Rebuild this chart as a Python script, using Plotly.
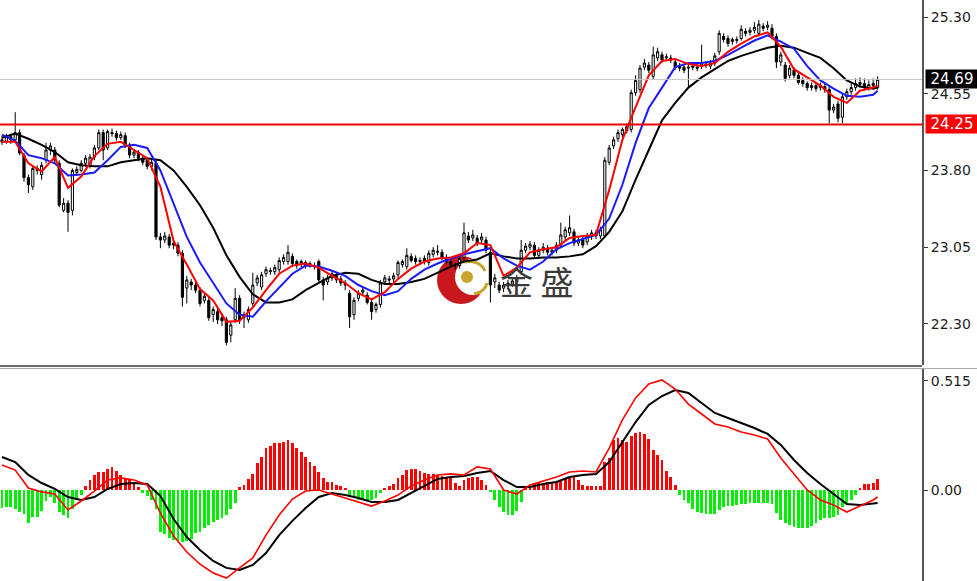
import plotly.graph_objects as go

# ---------------- price candles (one per bar) ----------------
open_ = [
    24.08, 24.08, 24.13, 24.10, 24.17, 23.95, 23.73, 23.64, 23.80, 23.76,
    23.90, 24.00, 24.00, 23.87, 23.41, 23.48, 23.41, 23.78, 23.80, 23.87,
    23.84, 23.93, 24.02, 24.17, 24.02, 24.17, 24.16, 24.12, 24.14, 24.05,
    23.95, 23.98, 23.92, 23.90, 23.84, 23.87, 23.15, 23.12, 23.15, 23.09,
    23.07, 22.99, 22.65, 22.71, 22.68, 22.63, 22.53, 22.53, 22.39, 22.42,
    22.36, 22.34, 22.19, 22.34, 22.55, 22.36, 22.34, 22.50, 22.70, 22.66,
    22.79, 22.81, 22.81, 22.83, 22.91, 22.91, 22.96, 22.91, 22.88, 22.90,
    22.88, 22.87, 22.91, 22.73, 22.71, 22.75, 22.77, 22.74, 22.70, 22.60,
    22.39, 22.55, 22.61, 22.58, 22.51, 22.44, 22.49, 22.71, 22.74, 22.74,
    22.78, 22.88, 22.86, 22.96, 22.94, 22.91, 22.94, 22.90, 22.98, 23.00,
    23.00, 22.95, 22.91, 22.88, 22.87, 22.95, 23.16, 23.14, 23.14, 23.12,
    23.12, 23.00, 22.71, 22.68, 22.65, 22.67, 22.69, 22.71, 22.81, 23.02,
    23.05, 23.07, 22.97, 23.02, 23.04, 23.00, 23.02, 23.07, 23.15, 23.19,
    23.20, 23.09, 23.12, 23.10, 23.16, 23.19, 23.16, 23.16, 23.88, 24.04,
    24.11, 24.15, 24.19, 24.20, 24.56, 24.59, 24.81, 24.83, 24.72, 24.90,
    24.93, 24.90, 24.90, 24.86, 24.82, 24.81, 24.80, 24.82, 24.81, 24.82,
    24.84, 24.82, 24.85, 24.96, 25.11, 25.09, 25.06, 25.07, 25.09, 25.16,
    25.15, 25.17, 25.14, 25.21, 25.20, 25.19, 25.11, 24.86, 24.83, 24.73,
    24.78, 24.73, 24.68, 24.65, 24.61, 24.63, 24.61, 24.62, 24.59, 24.39,
    24.45, 24.32, 24.52, 24.57, 24.61, 24.64, 24.65, 24.61, 24.63, 24.61,
]
close = [
    24.10, 24.13, 24.10, 24.17, 23.97, 23.73, 23.66, 23.82, 23.82, 23.85,
    24.00, 24.04, 23.90, 23.46, 23.48, 23.39, 23.80, 23.81, 23.87, 23.92,
    23.93, 24.02, 24.17, 24.00, 24.18, 24.16, 24.12, 24.15, 24.05, 23.95,
    23.98, 23.92, 23.88, 23.84, 23.88, 23.15, 23.12, 23.16, 23.07, 23.07,
    22.99, 22.56, 22.73, 22.68, 22.63, 22.50, 22.57, 22.36, 22.44, 22.34,
    22.33, 22.12, 22.29, 22.55, 22.34, 22.39, 22.44, 22.68, 22.75, 22.78,
    22.83, 22.82, 22.85, 22.92, 22.95, 23.00, 22.89, 22.87, 22.91, 22.87,
    22.89, 22.86, 22.73, 22.68, 22.75, 22.79, 22.73, 22.70, 22.68, 22.37,
    22.53, 22.60, 22.63, 22.51, 22.42, 22.49, 22.70, 22.75, 22.73, 22.77,
    22.90, 22.91, 22.97, 22.92, 22.91, 22.92, 22.91, 22.99, 23.02, 23.01,
    22.95, 22.91, 22.88, 22.87, 22.94, 23.19, 23.12, 23.17, 23.09, 23.15,
    23.02, 22.68, 22.75, 22.63, 22.68, 22.70, 22.72, 22.75, 23.02, 23.06,
    23.08, 22.97, 23.02, 23.05, 23.00, 23.02, 23.07, 23.17, 23.22, 23.24,
    23.09, 23.12, 23.07, 23.16, 23.19, 23.16, 23.22, 23.90, 24.02, 24.10,
    24.17, 24.20, 24.23, 24.56, 24.68, 24.80, 24.85, 24.78, 24.93, 24.96,
    24.88, 24.91, 24.88, 24.81, 24.80, 24.78, 24.81, 24.81, 24.80, 24.85,
    24.83, 24.85, 24.92, 25.14, 25.08, 25.04, 25.08, 25.08, 25.18, 25.14,
    25.17, 25.20, 25.23, 25.19, 25.22, 25.11, 24.86, 24.93, 24.70, 24.80,
    24.73, 24.66, 24.65, 24.61, 24.63, 24.60, 24.63, 24.59, 24.39, 24.42,
    24.31, 24.52, 24.57, 24.61, 24.65, 24.66, 24.61, 24.64, 24.65, 24.69,
]
high = [
    24.14, 24.16, 24.16, 24.37, 24.20, 23.97, 23.76, 23.84, 23.85, 23.88,
    24.07, 24.07, 24.03, 23.90, 23.53, 23.51, 23.82, 23.84, 23.90, 23.95,
    23.96, 24.05, 24.20, 24.20, 24.20, 24.21, 24.19, 24.18, 24.17, 24.07,
    24.01, 24.00, 23.95, 23.93, 23.91, 23.90, 23.19, 23.20, 23.18, 23.12,
    23.10, 23.02, 22.77, 22.74, 22.71, 22.66, 22.60, 22.56, 22.47, 22.45,
    22.40, 22.37, 22.32, 22.65, 22.58, 22.42, 22.47, 22.80, 22.78, 22.81,
    22.86, 22.85, 22.88, 22.95, 22.98, 23.07, 22.99, 22.93, 22.93, 22.92,
    22.91, 22.90, 22.93, 22.76, 22.78, 22.82, 22.80, 22.77, 22.73, 22.63,
    22.56, 22.63, 22.66, 22.61, 22.54, 22.51, 22.73, 22.78, 22.77, 22.80,
    22.92, 22.93, 23.04, 22.99, 22.97, 22.95, 22.97, 23.02, 23.05, 23.07,
    23.03, 22.98, 22.93, 22.90, 22.97, 23.29, 23.20, 23.22, 23.17, 23.19,
    23.15, 23.07, 22.79, 22.71, 22.71, 22.73, 22.75, 22.78, 23.12, 23.09,
    23.11, 23.10, 23.05, 23.09, 23.07, 23.05, 23.10, 23.29, 23.25, 23.36,
    23.23, 23.15, 23.15, 23.19, 23.22, 23.22, 23.25, 23.93, 24.05, 24.13,
    24.20, 24.22, 24.26, 24.59, 24.73, 24.83, 24.89, 24.86, 25.01, 25.00,
    24.96, 24.94, 24.93, 24.89, 24.85, 24.84, 24.84, 24.85, 24.84, 25.03,
    24.87, 24.88, 24.95, 25.17, 25.14, 25.12, 25.10, 25.11, 25.22, 25.19,
    25.20, 25.25, 25.27, 25.24, 25.26, 25.23, 25.14, 24.96, 24.86, 24.83,
    24.81, 24.76, 24.71, 24.67, 24.66, 24.66, 24.66, 24.65, 24.62, 24.45,
    24.48, 24.55, 24.60, 24.65, 24.70, 24.71, 24.70, 24.68, 24.70, 24.72,
]
low = [
    24.05, 24.06, 24.06, 24.08, 23.95, 23.69, 23.58, 23.61, 23.76, 23.71,
    23.87, 23.95, 23.87, 23.44, 23.39, 23.20, 23.36, 23.76, 23.78, 23.84,
    23.82, 23.90, 24.00, 23.90, 24.00, 24.13, 24.09, 24.10, 24.02, 23.92,
    23.92, 23.89, 23.85, 23.81, 23.80, 23.12, 23.04, 23.09, 23.04, 23.03,
    22.96, 22.47, 22.50, 22.63, 22.60, 22.47, 22.50, 22.33, 22.32, 22.30,
    22.28, 22.09, 22.12, 22.31, 22.30, 22.26, 22.31, 22.47, 22.67, 22.63,
    22.76, 22.78, 22.78, 22.80, 22.88, 22.88, 22.86, 22.84, 22.85, 22.84,
    22.85, 22.83, 22.70, 22.53, 22.68, 22.72, 22.70, 22.67, 22.63, 22.26,
    22.34, 22.52, 22.57, 22.49, 22.34, 22.41, 22.46, 22.68, 22.70, 22.71,
    22.75, 22.85, 22.83, 22.90, 22.88, 22.88, 22.88, 22.87, 22.95, 22.97,
    22.92, 22.88, 22.85, 22.83, 22.84, 22.92, 23.09, 23.11, 23.06, 23.09,
    22.99, 22.51, 22.65, 22.60, 22.61, 22.64, 22.66, 22.68, 22.78, 22.99,
    23.02, 22.94, 22.94, 22.99, 22.97, 22.97, 22.99, 23.04, 23.12, 23.16,
    23.06, 23.06, 23.04, 23.07, 23.12, 23.13, 23.13, 23.14, 23.85, 24.01,
    24.08, 24.12, 24.16, 24.17, 24.53, 24.56, 24.78, 24.75, 24.69, 24.87,
    24.85, 24.87, 24.85, 24.78, 24.77, 24.75, 24.61, 24.78, 24.77, 24.79,
    24.80, 24.79, 24.82, 24.93, 25.05, 25.01, 25.03, 25.04, 25.07, 25.11,
    25.12, 25.14, 25.11, 25.16, 25.17, 25.08, 24.80, 24.82, 24.67, 24.70,
    24.70, 24.64, 24.62, 24.58, 24.58, 24.57, 24.58, 24.56, 24.26, 24.36,
    24.27, 24.26, 24.49, 24.54, 24.58, 24.61, 24.58, 24.58, 24.60, 24.59,
]

# ---------------- moving averages (sampled every third bar) ----------------
line_idx = list(range(0, 199, 3)) + [199]
ma_fast = [
    24.08, 24.08, 23.87, 23.79, 23.93, 23.63, 23.74, 23.94, 24.06, 24.08,
    24.00, 23.92, 23.64, 23.11, 22.88, 22.64, 22.53, 22.32, 22.33, 22.46,
    22.63, 22.79, 22.87, 22.89, 22.85, 22.77, 22.70, 22.60, 22.54, 22.61,
    22.74, 22.84, 22.91, 22.94, 22.95, 22.99, 23.09, 23.07, 22.77, 22.85,
    23.00, 23.03, 23.05, 23.14, 23.16, 23.17, 23.61, 24.10, 24.42, 24.73,
    24.87, 24.89, 24.84, 24.82, 24.85, 24.96, 25.04, 25.11, 25.15, 25.01,
    24.79, 24.71, 24.63, 24.52, 24.46, 24.58, 24.61, 24.63,
]
ma_mid = [
    24.15, 24.09, 23.95, 23.92, 23.87, 23.75, 23.76, 23.78, 23.90, 24.03,
    24.05, 24.02, 23.80, 23.48, 23.15, 22.90, 22.70, 22.50, 22.39, 22.37,
    22.52, 22.65, 22.79, 22.87, 22.86, 22.82, 22.77, 22.68, 22.62, 22.58,
    22.62, 22.74, 22.83, 22.89, 22.94, 22.98, 23.01, 23.04, 22.94, 22.87,
    22.83, 22.91, 23.03, 23.09, 23.13, 23.17, 23.33, 23.66, 24.07, 24.41,
    24.61, 24.81, 24.85, 24.85, 24.87, 24.93, 25.00, 25.07, 25.12, 25.06,
    24.99, 24.82, 24.68, 24.60, 24.53, 24.52, 24.54, 24.58,
]
ma_slow = [
    24.12, 24.16, 24.11, 24.05, 23.98, 23.88, 23.85, 23.84, 23.84, 23.88,
    23.90, 23.92, 23.90, 23.80, 23.64, 23.46, 23.24, 22.97, 22.76, 22.59,
    22.51, 22.51, 22.54, 22.63, 22.70, 22.77, 22.80, 22.79, 22.73, 22.69,
    22.69, 22.71, 22.74, 22.80, 22.86, 22.91, 22.93, 22.99, 22.96, 22.94,
    22.94, 22.95, 22.95, 22.96, 22.98, 23.06, 23.20, 23.40, 23.71, 24.00,
    24.29, 24.46, 24.61, 24.71, 24.79, 24.87, 24.92, 24.96, 25.00, 25.02,
    25.00, 24.95, 24.90, 24.80, 24.68, 24.62, 24.60, 24.61,
]

# ---------------- MACD panel ----------------
macd_hist = [
    -0.087, -0.079, -0.079, -0.090, -0.102, -0.115, -0.154, -0.126, -0.126, -0.100,
    -0.050, -0.035, -0.060, -0.105, -0.118, -0.134, -0.090, -0.047, -0.024, 0.020,
    0.045, 0.072, 0.085, 0.085, 0.100, 0.110, 0.090, 0.070, 0.058, 0.050,
    0.030, 0.016, -0.016, -0.030, -0.045, -0.090, -0.200, -0.210, -0.225, -0.235,
    -0.240, -0.245, -0.243, -0.230, -0.205, -0.200, -0.180, -0.163, -0.153, -0.140,
    -0.130, -0.120, -0.090, -0.060, 0.012, 0.026, 0.050, 0.075, 0.128, 0.155,
    0.200, 0.210, 0.222, 0.224, 0.228, 0.236, 0.222, 0.200, 0.178, 0.155,
    0.132, 0.112, 0.085, 0.058, 0.040, 0.040, 0.026, 0.017, 0.005, -0.024,
    -0.035, -0.047, -0.047, -0.047, -0.047, -0.040, -0.015, 0.008, 0.018, 0.030,
    0.057, 0.070, 0.094, 0.100, 0.097, 0.088, 0.080, 0.075, 0.075, 0.070,
    0.066, 0.058, 0.057, 0.035, 0.018, 0.045, 0.058, 0.060, 0.060, 0.048,
    0.026, -0.010, -0.045, -0.080, -0.105, -0.118, -0.116, -0.097, -0.055, 0.005,
    0.020, 0.030, 0.033, 0.035, 0.038, 0.038, 0.038, 0.045, 0.055, 0.062,
    0.062, 0.045, 0.024, 0.019, 0.019, 0.019, 0.019, 0.130, 0.150, 0.236,
    0.245, 0.238, 0.228, 0.255, 0.270, 0.274, 0.265, 0.240, 0.190, 0.165,
    0.140, 0.090, 0.060, 0.022, -0.024, -0.047, -0.063, -0.090, -0.102, -0.110,
    -0.115, -0.115, -0.113, -0.094, -0.079, -0.076, -0.074, -0.071, -0.066, -0.066,
    -0.063, -0.063, -0.063, -0.063, -0.063, -0.066, -0.110, -0.142, -0.157, -0.165,
    -0.173, -0.180, -0.180, -0.178, -0.170, -0.157, -0.142, -0.134, -0.134, -0.126,
    -0.118, -0.079, -0.063, -0.047, -0.024, 0.005, 0.028, 0.028, 0.033, 0.052,
]
macd_line = [
    0.118, 0.094, 0.009, -0.009, -0.019, -0.094, -0.052, -0.005, 0.047, 0.057,
    0.047, 0.024, -0.109, -0.217, -0.293, -0.350, -0.392, -0.416, -0.368, -0.321,
    -0.213, -0.118, -0.043, -0.005, 0.000, -0.019, -0.038, -0.057, -0.076, -0.052,
    -0.024, 0.019, 0.047, 0.071, 0.076, 0.071, 0.109, 0.099, 0.000, -0.019,
    0.024, 0.043, 0.061, 0.085, 0.090, 0.085, 0.198, 0.331, 0.435, 0.501,
    0.520, 0.477, 0.406, 0.359, 0.312, 0.298, 0.274, 0.260, 0.241, 0.151,
    0.076, 0.000, -0.047, -0.071, -0.104, -0.076, -0.047, -0.033,
]
signal_line = [
    0.156, 0.132, 0.071, 0.033, 0.005, -0.033, -0.047, -0.033, 0.005, 0.028,
    0.033, 0.028, -0.028, -0.137, -0.222, -0.283, -0.335, -0.368, -0.378, -0.354,
    -0.298, -0.213, -0.146, -0.085, -0.033, -0.014, -0.024, -0.038, -0.057, -0.057,
    -0.047, -0.014, 0.019, 0.052, 0.061, 0.066, 0.080, 0.090, 0.047, 0.014,
    0.014, 0.028, 0.038, 0.061, 0.071, 0.076, 0.132, 0.227, 0.321, 0.402,
    0.444, 0.472, 0.458, 0.411, 0.364, 0.340, 0.316, 0.293, 0.265, 0.213,
    0.142, 0.080, 0.028, -0.019, -0.066, -0.071, -0.061, -0.061,
]

# ---------------- levels and axis labels ----------------
price_ticks = [25.30, 24.55, 23.80, 23.05, 22.30]
price_tick_text = ["25.30", "24.55", "23.80", "23.05", "22.30"]
macd_ticks = [0.515, 0.0]
macd_tick_text = ["0.515", "0.00"]
last_price = 24.69
support_level = 24.25

# ---------------- geometry ----------------
FIG_W, FIG_H = 977, 581
PLOT_W = 922
MAIN_BOTTOM_PX = 365
SUB_TOP_PX = 369


def px(xp):
    return xp / PLOT_W


def py(yp):
    return 1 - yp / FIG_H


bars = list(range(len(close)))

fig = go.Figure()

fig.add_trace(go.Candlestick(
    x=bars, open=open_, high=high, low=low, close=close,
    increasing=dict(line=dict(color="black", width=1), fillcolor="white"),
    decreasing=dict(line=dict(color="black", width=1), fillcolor="black"),
    whiskerwidth=0, showlegend=False, hoverinfo="skip",
    xaxis="x", yaxis="y",
))

for vals, col in [(ma_slow, "#000000"), (ma_mid, "#1a1aff"), (ma_fast, "#ff0000")]:
    fig.add_trace(go.Scatter(
        x=line_idx, y=vals, mode="lines",
        line=dict(color=col, width=2), hoverinfo="skip",
        xaxis="x", yaxis="y", showlegend=False,
    ))

fig.add_trace(go.Bar(
    x=bars, y=macd_hist, width=0.62,
    marker=dict(color=["#ff0000" if v >= 0 else "#00ee00" for v in macd_hist],
                line=dict(width=0)),
    hoverinfo="skip", xaxis="x", yaxis="y2", showlegend=False,
))
fig.add_trace(go.Scatter(
    x=line_idx, y=signal_line, mode="lines",
    line=dict(color="#000000", width=2), hoverinfo="skip",
    xaxis="x", yaxis="y2", showlegend=False,
))
fig.add_trace(go.Scatter(
    x=line_idx, y=macd_line, mode="lines",
    line=dict(color="#ff0000", width=1.6), hoverinfo="skip",
    xaxis="x", yaxis="y2", showlegend=False,
))

axis_font = dict(family="DejaVu Sans", size=14, color="#1e1e1e")
x_lo = -2 / 4.4
x_hi = x_lo + PLOT_W / 4.4

main_top_val = 25.30 + 17 / 102.3
main_bot_val = 25.30 - (MAIN_BOTTOM_PX - 17) / 102.3
sub_top_val = (490 - SUB_TOP_PX) / 211.7
sub_bot_val = (490 - FIG_H) / 211.7

fig.update_layout(
    width=FIG_W, height=FIG_H,
    margin=dict(l=0, r=FIG_W - PLOT_W, t=0, b=0),
    paper_bgcolor="white", plot_bgcolor="white",
    showlegend=False, bargap=0,
    xaxis=dict(range=[x_lo, x_hi], visible=False, fixedrange=True,
               rangeslider=dict(visible=False)),
    yaxis=dict(domain=[py(MAIN_BOTTOM_PX), 1], range=[main_bot_val, main_top_val],
               side="right", tickvals=price_ticks, ticktext=price_tick_text,
               showgrid=False, zeroline=False, showline=True, linecolor="#555555",
               linewidth=2, ticks="outside", ticklen=4, tickcolor="#333333",
               tickfont=axis_font, fixedrange=True),
    yaxis2=dict(domain=[0, py(SUB_TOP_PX)], range=[sub_bot_val, sub_top_val],
                side="right", tickvals=macd_ticks, ticktext=macd_tick_text,
                showgrid=False, zeroline=False, showline=True, linecolor="#555555",
                linewidth=2, ticks="outside", ticklen=4, tickcolor="#333333",
                tickfont=axis_font, fixedrange=True, anchor="x"),
)

shapes = [
    # panel separator
    dict(type="line", xref="paper", yref="paper", x0=0, x1=1, y0=py(366), y1=py(366),
         line=dict(color="#6a6a6a", width=2)),
    dict(type="line", xref="paper", yref="paper", x0=0, x1=FIG_W / PLOT_W,
         y0=py(368.5), y1=py(368.5), line=dict(color="#a8a8a8", width=1)),
    # last price and support level
    dict(type="line", xref="paper", yref="y", x0=0, x1=1, y0=last_price, y1=last_price,
         line=dict(color="#c4c4c4", width=1)),
    dict(type="line", xref="paper", yref="y", x0=0, x1=1, y0=support_level, y1=support_level,
         line=dict(color="#ee0000", width=2)),
    # logo: red crescent with gold ball
    dict(type="circle", xref="paper", yref="paper", layer="below",
         x0=px(437), x1=px(485), y0=py(304), y1=py(256),
         fillcolor="#c8181e", line=dict(width=0)),
    dict(type="circle", xref="paper", yref="paper", layer="below",
         x0=px(455), x1=px(491), y0=py(295), y1=py(259),
         fillcolor="white", line=dict(width=0)),
    dict(type="circle", xref="paper", yref="paper", layer="below",
         x0=px(461), x1=px(473), y0=py(283), y1=py(271),
         fillcolor="#c9a42a", line=dict(width=0)),
    dict(type="path", xref="paper", yref="paper", layer="below",
         path="M {},{} Q {},{} {},{}".format(px(463), py(262), px(480), py(259), px(485), py(271)),
         line=dict(color="#c9a42a", width=3)),
    dict(type="path", xref="paper", yref="paper", layer="below",
         path="M {},{} Q {},{} {},{}".format(px(474), py(294), px(485), py(292), px(487), py(283)),
         line=dict(color="#c9a42a", width=3)),
]
fig.update_layout(shapes=shapes)

fig.add_annotation(
    xref="paper", yref="paper", x=px(536), y=py(281), text="金 盛", showarrow=False,
    font=dict(family="Noto Sans CJK SC", size=33, color="#3a3a3a"),
    xanchor="center", yanchor="middle",
)
for val, bg in [(last_price, "#000000"), (support_level, "#ff0000")]:
    fig.add_annotation(
        xref="paper", yref="y", x=1, y=val, xanchor="left", yanchor="middle",
        xshift=3, text=f"{val:.2f}", showarrow=False, bgcolor=bg,
        font=dict(family="DejaVu Sans", size=15, color="white"),
        width=50, height=16, borderpad=1, align="center",
    )

fig.write_html("out.html", config={"displayModeBar": False})
